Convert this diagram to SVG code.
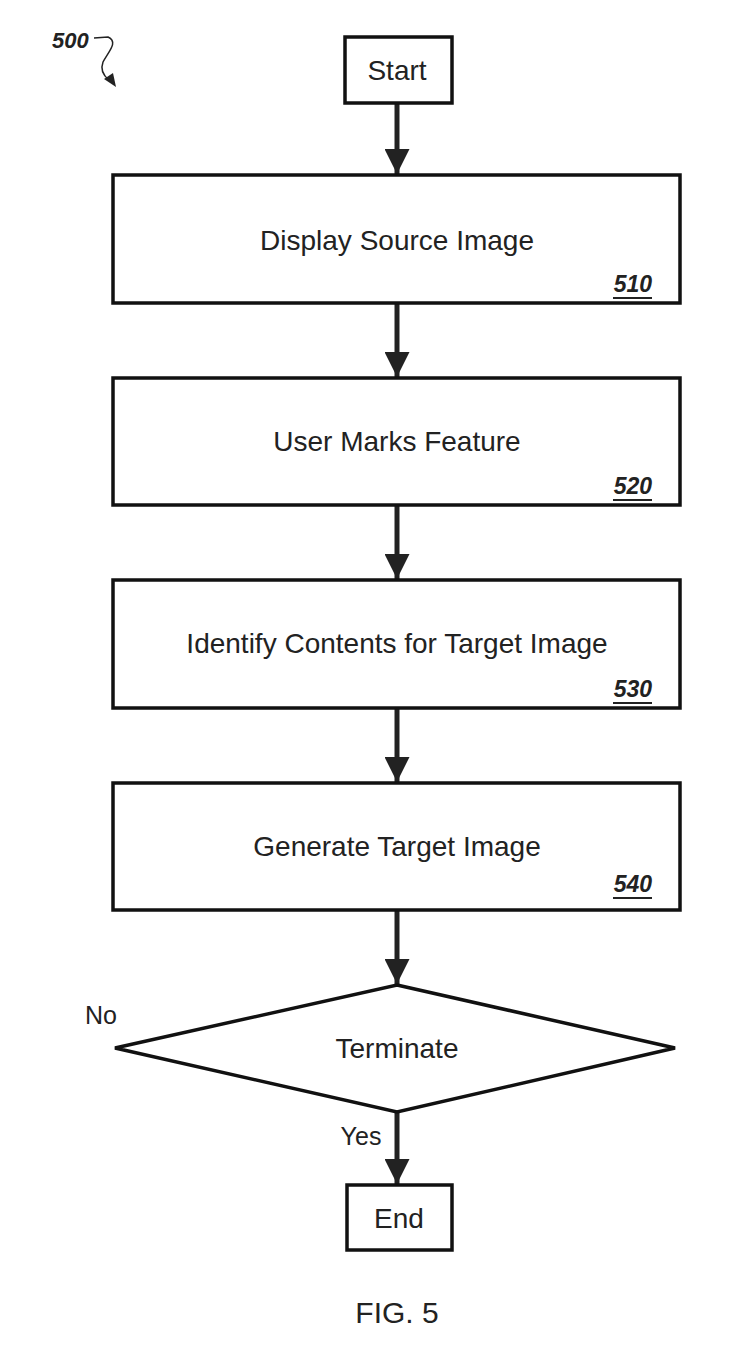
<svg xmlns="http://www.w3.org/2000/svg" width="751" height="1347" viewBox="0 0 751 1347">
<style>
.box{fill:#fff;stroke:#111;stroke-width:3.5}
.conn{fill:none;stroke:#222;stroke-width:5}
.t{font-family:"Liberation Sans",Arial,sans-serif;font-size:28px;fill:#222;text-anchor:middle}
.s{font-family:"Liberation Sans",Arial,sans-serif;font-size:25px;fill:#222;text-anchor:middle}
.ref{font-family:"Liberation Sans",Arial,sans-serif;font-size:23px;font-weight:bold;font-style:italic;fill:#222;text-anchor:end}
.ul{stroke:#222;stroke-width:2}
</style>
<defs>
<marker id="ah" viewBox="0 0 10 10" refX="10" refY="5" markerWidth="5" markerHeight="5" markerUnits="strokeWidth" orient="auto">
<path d="M0,0 L10,5 L0,10 z" fill="#222"/>
</marker>
</defs>
<rect width="751" height="1347" fill="#fff"/>
<g id="label500">
<text x="52" y="48" style="font-family:'Liberation Sans',Arial,sans-serif;font-size:22px;font-weight:bold;font-style:italic;fill:#222">500</text>
<path d="M94,38 L108,37 C119,42 108,52 103,62 C100,70 104,76 109,80" fill="none" stroke="#222" stroke-width="1.5"/>
<path d="M104,79 L116,87 L113,73 z" fill="#222"/>
</g>
<g id="connectors">
<line class="conn" x1="397" y1="103" x2="397" y2="174" marker-end="url(#ah)"/>
<line class="conn" x1="397" y1="303" x2="397" y2="377" marker-end="url(#ah)"/>
<line class="conn" x1="397" y1="505" x2="397" y2="579" marker-end="url(#ah)"/>
<line class="conn" x1="397" y1="708" x2="397" y2="782" marker-end="url(#ah)"/>
<line class="conn" x1="397" y1="910" x2="397" y2="984" marker-end="url(#ah)"/>
<line class="conn" x1="397" y1="1112" x2="397" y2="1184" marker-end="url(#ah)"/>
</g>
<g id="start">
<rect class="box" x="345" y="37" width="107" height="66"/>
<text class="t" x="397" y="80">Start</text>
</g>
<g id="n510">
<rect class="box" x="113" y="175" width="567" height="128"/>
<text class="t" x="397" y="250">Display Source Image</text>
<text class="ref" x="652" y="292">510</text>
<line class="ul" x1="613" y1="298" x2="652" y2="298"/>
</g>
<g id="n520">
<rect class="box" x="113" y="378" width="567" height="127"/>
<text class="t" x="397" y="451">User Marks Feature</text>
<text class="ref" x="652" y="494">520</text>
<line class="ul" x1="613" y1="500" x2="652" y2="500"/>
</g>
<g id="n530">
<rect class="box" x="113" y="580" width="567" height="128"/>
<text class="t" x="397" y="653">Identify Contents for Target Image</text>
<text class="ref" x="652" y="697">530</text>
<line class="ul" x1="613" y1="703" x2="652" y2="703"/>
</g>
<g id="n540">
<rect class="box" x="113" y="783" width="567" height="127"/>
<text class="t" x="397" y="856">Generate Target Image</text>
<text class="ref" x="652" y="892">540</text>
<line class="ul" x1="613" y1="898" x2="652" y2="898"/>
</g>
<g id="terminate">
<polygon class="box" points="397,985 675,1048 397,1112 115,1048"/>
<text class="t" x="397" y="1058">Terminate</text>
<text class="s" x="101" y="1024">No</text>
<text class="s" x="361" y="1145">Yes</text>
</g>
<g id="end">
<rect class="box" x="347" y="1185" width="105" height="65"/>
<text class="t" x="399" y="1228">End</text>
</g>
<text x="397" y="1323" style="font-family:'Liberation Sans',Arial,sans-serif;font-size:30px;fill:#222;text-anchor:middle">FIG. 5</text>
</svg>
